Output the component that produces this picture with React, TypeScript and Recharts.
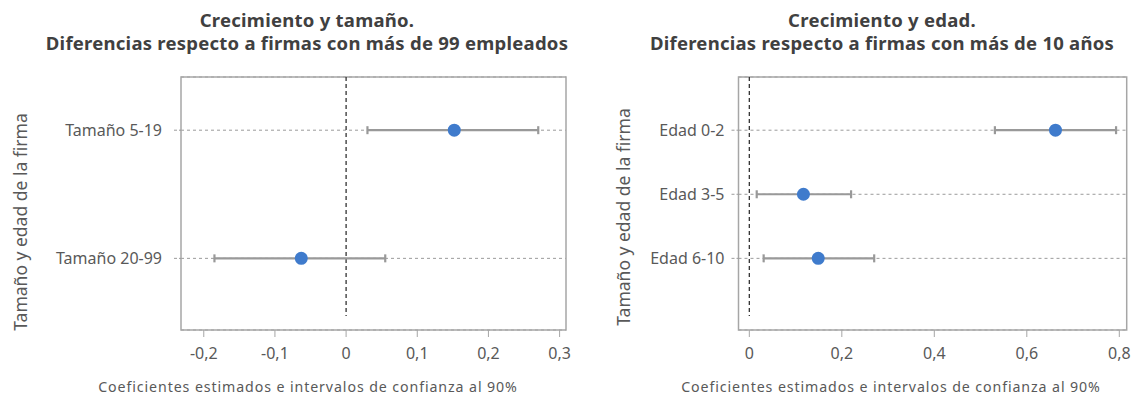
import React from 'react';
import {
  ScatterChart, Scatter, XAxis, YAxis, CartesianGrid, ErrorBar,
  ReferenceLine, ReferenceArea,
} from 'recharts';

// Left panel: size
const sizeCategories = ['Tamaño 5-19', 'Tamaño 20-99'];
const sizeRows = [2, 1];
const sizeCoef = [0.152, -0.063];
const sizeLow = [0.03, -0.185];
const sizeHigh = [0.27, 0.055];
const sizeTicks = [-0.2, -0.1, 0, 0.1, 0.2, 0.3];

// Right panel: age
const ageCategories = ['Edad 0-2', 'Edad 3-5', 'Edad 6-10'];
const ageRows = [3, 2, 1];
const ageCoef = [0.662, 0.117, 0.149];
const ageLow = [0.531, 0.016, 0.031];
const ageHigh = [0.793, 0.22, 0.27];
const ageTicks = [0, 0.2, 0.4, 0.6, 0.8];

const titleSize = ['Crecimiento y tamaño.', 'Diferencias respecto a firmas con más de 99 empleados'];
const titleAge = ['Crecimiento y edad.', 'Diferencias respecto a firmas con más de 10 años'];
const xLabel = 'Coeficientes estimados e intervalos de confianza al 90%';
const yLabel = 'Tamaño y edad de la firma';

const FONT = '"Noto Sans", "Open Sans", sans-serif';
const TEXT = '#595959';
const FRAME = '#a6a6a6';
const BLUE = '#3f7bcc';

const fmt = (v: number) => String(v).replace('.', ',');

const Dot = (props: any) => <circle cx={props.cx} cy={props.cy} r={6.5} fill={BLUE} />;

function Panel(p: any) {
  const data = p.cats.map((c: string, i: number) => ({
    name: c, x: p.coef[i], y: p.rows[i], err: [p.coef[i] - p.low[i], p.high[i] - p.coef[i]],
  }));
  return (
    <ScatterChart
      width={p.width}
      height={399}
      margin={{ top: 77, right: p.rightMargin, bottom: 0, left: 0 }}
      style={{ fontFamily: FONT }}
    >
      <CartesianGrid horizontal vertical={false} stroke="#9a9a9a" strokeDasharray="3 3" />
      <XAxis
        type="number" dataKey="x" domain={p.xDomain} ticks={p.xTicks} allowDataOverflow
        tickFormatter={fmt} axisLine={false} tickLine={{ stroke: FRAME }} tickSize={7} tickMargin={11}
        height={69} tick={{ fill: TEXT, fontSize: 16 }} interval={0}
      />
      <YAxis
        type="number" dataKey="y" domain={p.yDomain} ticks={p.rows} allowDataOverflow
        tickFormatter={(v: number) => p.cats[p.rows.indexOf(v)]}
        axisLine={false} tickLine={{ stroke: '#9a9a9a', strokeDasharray: '3 2' }} tickSize={7}
        tickMargin={p.yTickMargin} width={p.plotLeft} tick={{ fill: TEXT, fontSize: 16 }} interval={0}
      />
      <ReferenceArea
        x1={p.xDomain[0]} x2={p.xDomain[1]} y1={p.yDomain[0]} y2={p.yDomain[1]}
        fill="none" stroke={FRAME} strokeWidth={1.5} fillOpacity={0}
      />
      <ReferenceLine
        segment={[{ x: 0, y: p.yDomain[1] }, { x: 0, y: p.zeroBottom }]}
        stroke="#333" strokeWidth={1.3} strokeDasharray="4 3"
      />
      <Scatter data={data} shape={Dot} isAnimationActive={false}>
        <ErrorBar dataKey="err" direction="x" width={4} stroke="#999" strokeWidth={2.2} />
      </Scatter>
    </ScatterChart>
  );
}

const titleLine = (center: number, top: number): React.CSSProperties => ({
  position: 'absolute', left: center - 300, width: 600, top, textAlign: 'center',
  fontFamily: FONT, fontWeight: 700, fontSize: 18.5, lineHeight: '22px', color: '#404040',
  letterSpacing: 0.25, whiteSpace: 'nowrap',
});

const xLabelStyle = (center: number): React.CSSProperties => ({
  position: 'absolute', left: center - 300, width: 600, top: 378, textAlign: 'center',
  fontFamily: FONT, fontSize: 14.2, lineHeight: '18px', color: TEXT, letterSpacing: 0.9,
});

const yLabelStyle = (cx: number, cy: number): React.CSSProperties => ({
  position: 'absolute', left: cx - 150, top: cy - 12, width: 300, height: 24, textAlign: 'center',
  fontFamily: FONT, fontSize: 17.5, lineHeight: '24px', color: TEXT, transform: 'rotate(-90deg)',
  whiteSpace: 'nowrap',
});

export default function App() {
  return (
    <div style={{ position: 'absolute', left: 0, top: 0, width: 1142, height: 399, background: '#fff', overflow: 'hidden' }}>
      <div style={{ position: 'absolute', left: 0, top: 0 }}>
        <Panel
          width={580} plotLeft={181} rightMargin={14} cats={sizeCategories} rows={sizeRows}
          coef={sizeCoef} low={sizeLow} high={sizeHigh} xTicks={sizeTicks}
          xDomain={[-0.232, 0.309]} yDomain={[0.441, 2.415]} zeroBottom={0.55} yTickMargin={12}
        />
      </div>
      <div style={{ position: 'absolute', left: 580, top: 0 }}>
        <Panel
          width={562} plotLeft={158.5} rightMargin={15.3} cats={ageCategories} rows={ageRows}
          coef={ageCoef} low={ageLow} high={ageHigh} xTicks={ageTicks}
          xDomain={[-0.0234, 0.816]} yDomain={[-0.118, 3.83]} zeroBottom={0.1} yTickMargin={7}
        />
      </div>
      <div style={titleLine(307, 9)}>{titleSize[0]}</div>
      <div style={titleLine(307, 32)}>{titleSize[1]}</div>
      <div style={titleLine(882, 9)}>{titleAge[0]}</div>
      <div style={titleLine(882, 32)}>{titleAge[1]}</div>
      <div style={xLabelStyle(308)}>{xLabel}</div>
      <div style={xLabelStyle(891)}>{xLabel}</div>
      <div style={yLabelStyle(20, 222)}>{yLabel}</div>
      <div style={yLabelStyle(623, 217)}>{yLabel}</div>
    </div>
  );
}
